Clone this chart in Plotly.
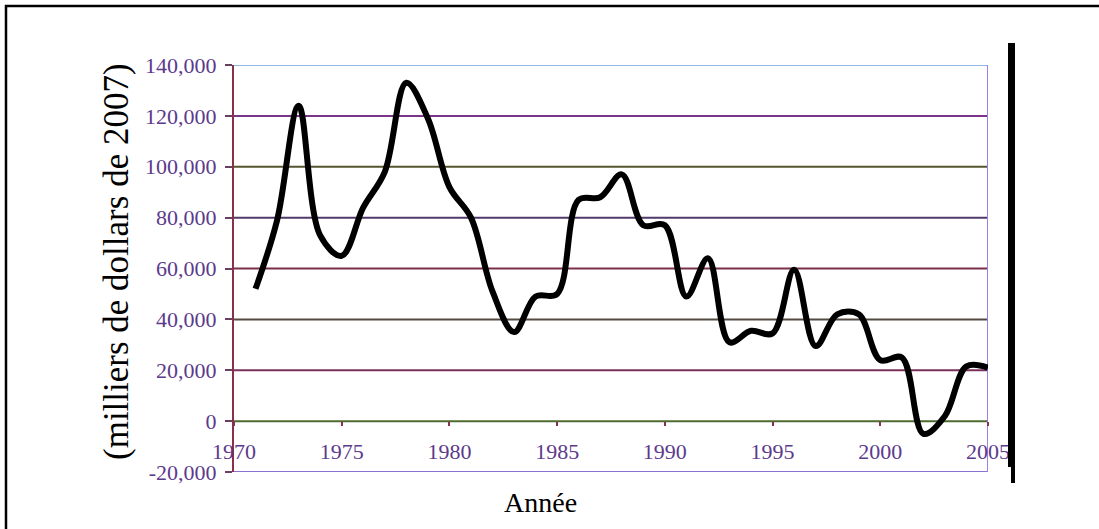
import plotly.graph_objects as go

# ---- data ----
years = list(range(1971, 2006))
values = [52000, 79000, 124000, 73000, 65000, 84000, 98000, 133000, 119000, 92000,
          80000, 51000, 35000, 49000, 50000, 87000, 88000, 97000, 77000, 77000,
          49000, 64000, 31000, 35500, 34500, 59500, 29500, 42000, 42000, 24000,
          25000, -5000, 2000, 21500, 21000]
x_tick_vals = [1970, 1975, 1980, 1985, 1990, 1995, 2000, 2005]
x_tick_text = ["1970", "1975", "1980", "1985", "1990", "1995", "2000", "2005"]
y_tick_vals = [-20000, 0, 20000, 40000, 60000, 80000, 100000, 120000, 140000]
y_tick_text = ["-20,000", "0", "20,000", "40,000", "60,000", "80,000", "100,000", "120,000", "140,000"]
x_title = "Année"
y_title = "(milliers de dollars de 2007)"

# ---- styles ----
grid_colors = ["#8a70d0", "#4f6a30", "#7a3058", "#554a40", "#7a3048",
               "#503a6a", "#56562e", "#7a3488", "#8fb8e8"]
tick_font = dict(family="Liberation Serif", size=22, color="#5c3a8c")

W, H = 1099, 529
L, R, T, B = 234, 111, 65, 57
pw, ph = W - L - R, H - T - B

def px(x):
    return (x - L) / pw

def py(y):
    return (H - B - y) / ph

fig = go.Figure()
fig.add_trace(go.Scatter(x=years, y=values, mode="lines",
                         line=dict(color="black", width=6, shape="spline", smoothing=1.0),
                         hoverinfo="skip"))

shapes = []
for v, c in zip(y_tick_vals, grid_colors):
    shapes.append(dict(type="line", xref="x", yref="y", x0=x_tick_vals[0], x1=x_tick_vals[-1],
                       y0=v, y1=v, line=dict(color=c, width=2), layer="below"))
# right edge of plot
shapes.append(dict(type="line", xref="x", yref="y", x0=x_tick_vals[-1], x1=x_tick_vals[-1],
                   y0=y_tick_vals[0], y1=y_tick_vals[-1], line=dict(color="#9a80e0", width=2), layer="below"))
# outer frame
shapes.append(dict(type="rect", xref="paper", yref="paper", x0=px(6), x1=2, y0=-1, y1=py(6),
                   line=dict(color="black", width=2.5), fillcolor="rgba(0,0,0,0)"))
# black bar on right
shapes.append(dict(type="rect", xref="paper", yref="paper", x0=px(1008), x1=px(1015), y0=py(467), y1=py(43),
                   line=dict(width=0), fillcolor="black"))
shapes.append(dict(type="rect", xref="paper", yref="paper", x0=px(1011), x1=px(1015), y0=py(483), y1=py(467),
                   line=dict(width=0), fillcolor="black"))

annotations = [
    dict(text=x_title, xref="paper", yref="paper", x=px(540), y=py(502), showarrow=False,
         xanchor="center", yanchor="middle", font=dict(family="Liberation Serif", size=28, color="black")),
    dict(text=y_title, xref="paper", yref="paper", x=px(116), y=py(262), showarrow=False, textangle=-90,
         xanchor="center", yanchor="middle", font=dict(family="Liberation Serif", size=35, color="black")),
]

fig.update_layout(
    width=W, height=H, margin=dict(l=L, r=R, t=T, b=B),
    plot_bgcolor="white", paper_bgcolor="white", showlegend=False,
    shapes=shapes, annotations=annotations,
    xaxis=dict(range=[x_tick_vals[0], x_tick_vals[-1]], tickvals=x_tick_vals, ticktext=x_tick_text,
               anchor="free", position=(0 - y_tick_vals[0]) / (y_tick_vals[-1] - y_tick_vals[0]),
               showgrid=False, zeroline=False, showline=False,
               ticks="outside", ticklen=4, tickwidth=2, tickcolor="#8a3050",
               tickfont=tick_font, ticklabelstandoff=6),
    yaxis=dict(range=[y_tick_vals[0], y_tick_vals[-1]], tickvals=y_tick_vals, ticktext=y_tick_text,
               showgrid=False, zeroline=False, showline=True, linecolor="#8a3048", linewidth=2,
               ticks="outside", ticklen=7, tickwidth=2, tickcolor="#6a4060",
               tickfont=tick_font, ticklabelstandoff=4),
)

fig.write_html("out.html", config={"displayModeBar": False},
               post_script="document.body.style.margin='0';document.body.style.overflow='hidden';")
